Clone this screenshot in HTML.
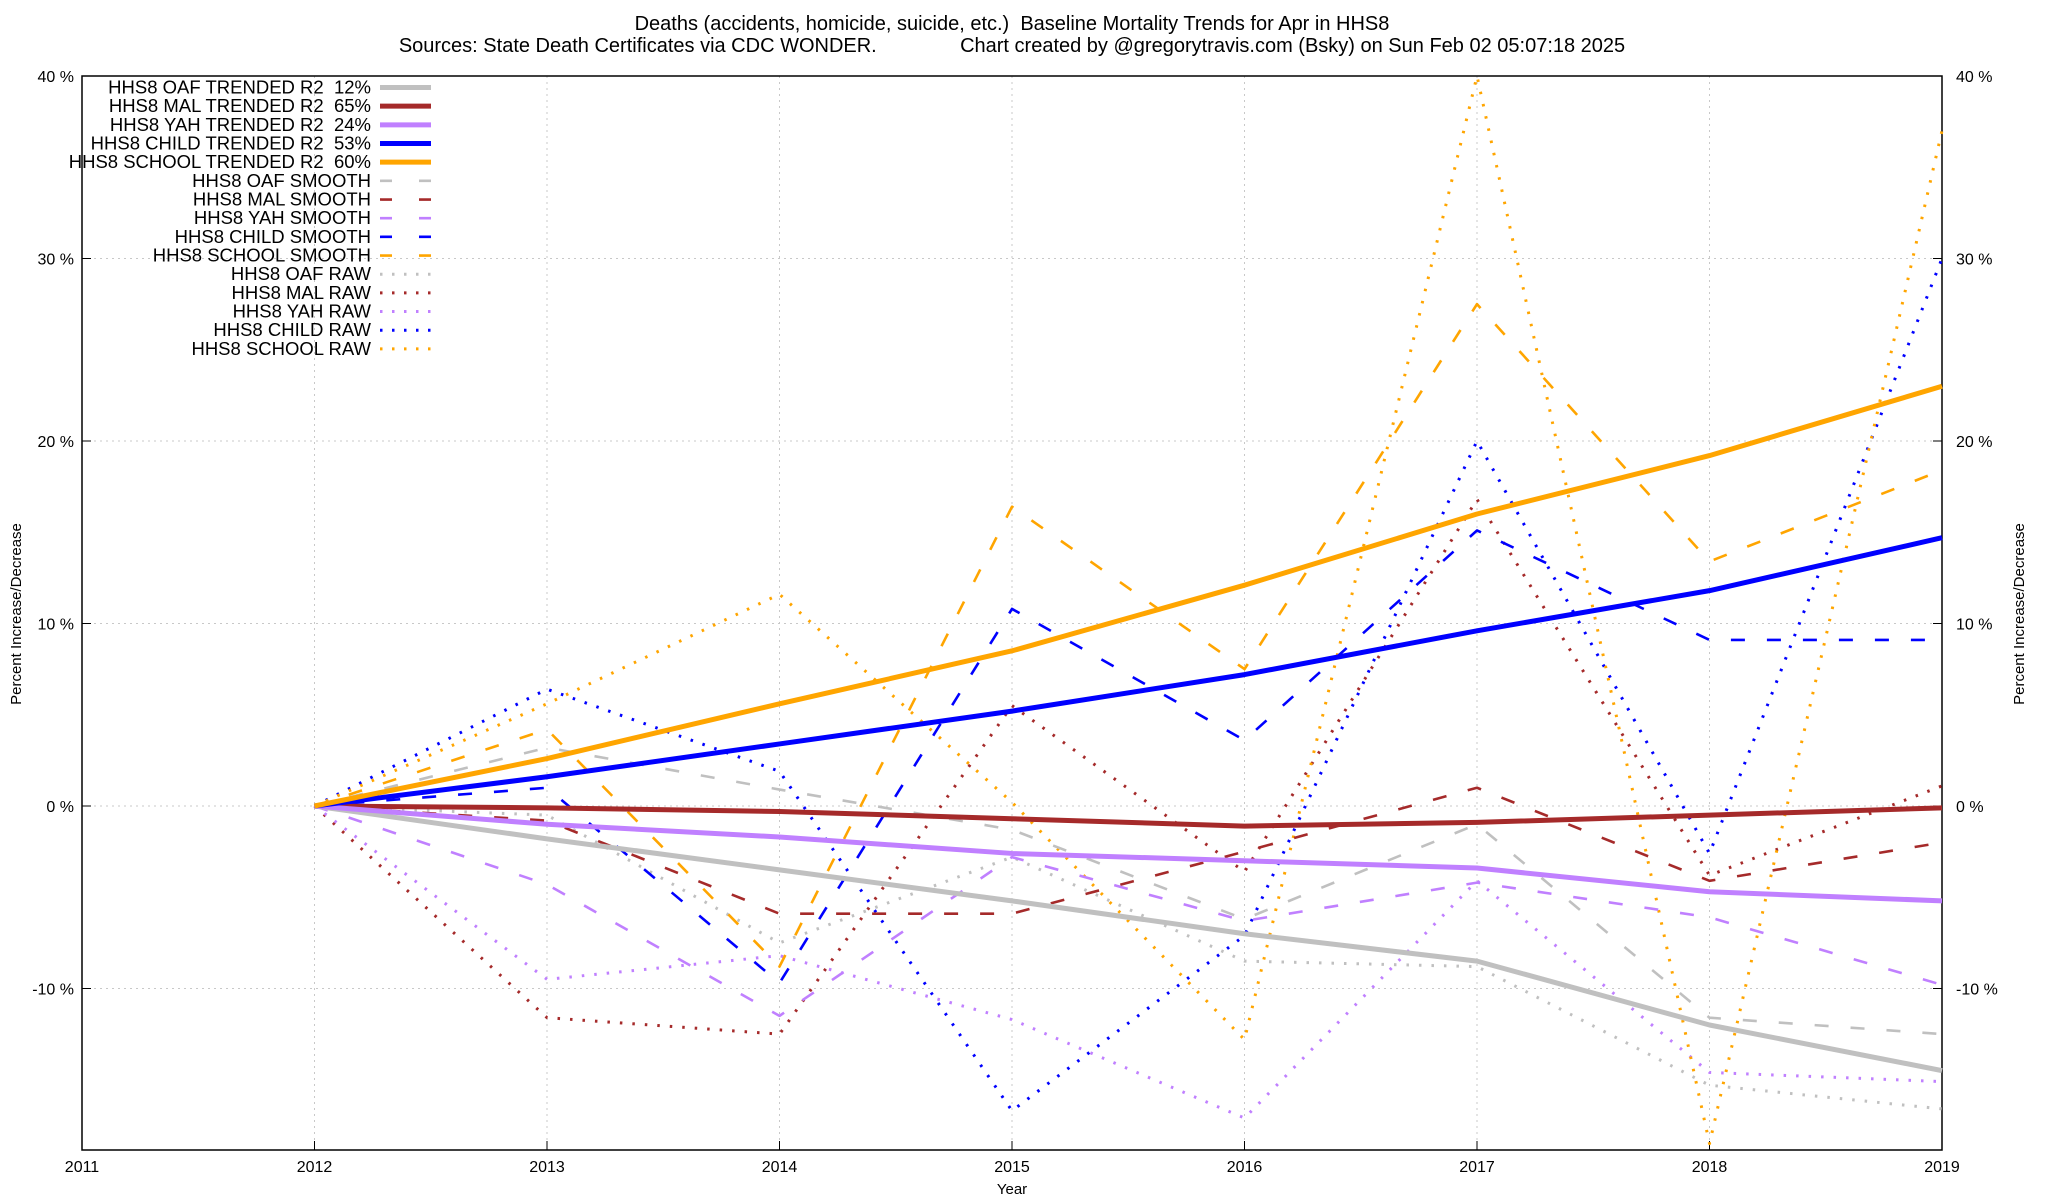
<!DOCTYPE html>
<html><head><meta charset="utf-8">
<style>
html,body{margin:0;padding:0;background:#fff;}
svg{display:block;font-family:"Liberation Sans",sans-serif;}
text{white-space:pre;}
</style></head>
<body>
<svg id="chart" width="2048" height="1200" viewBox="0 0 2048 1200" xmlns="http://www.w3.org/2000/svg">
<rect width="2048" height="1200" fill="#fff"/>
<text x="1012" y="30" text-anchor="middle" font-size="20">Deaths (accidents, homicide, suicide, etc.)  Baseline Mortality Trends for Apr in HHS8</text>
<text x="1012" y="52" text-anchor="middle" font-size="20">Sources: State Death Certificates via CDC WONDER.               Chart created by @gregorytravis.com (Bsky) on Sun Feb 02 05:07:18 2025</text>
<g id="grid"></g>
<g id="axes"></g>
<g id="series"></g>
<g id="legend"></g>
<text x="1012" y="1194" text-anchor="middle" font-size="15">Year</text>
<text transform="translate(21,614) rotate(-90)" text-anchor="middle" font-size="15">Percent Increase/Decrease</text>
<text transform="translate(2024,614) rotate(-90)" text-anchor="middle" font-size="15">Percent Increase/Decrease</text>
</svg>
<script>
const years = [2012,2013,2014,2015,2016,2017,2018,2019];
const xTicks = [2011,2012,2013,2014,2015,2016,2017,2018,2019];
const yTicks = [-10,0,10,20,30,40];
const oafTrend = [0,-1.8,-3.5,-5.2,-7.0,-8.5,-12.0,-14.5];
const malTrend = [0,-0.1,-0.3,-0.7,-1.1,-0.9,-0.5,-0.1];
const yahTrend = [0,-1.0,-1.7,-2.6,-3.0,-3.4,-4.7,-5.2];
const childTrend = [0,1.6,3.4,5.2,7.2,9.6,11.8,14.7];
const schoolTrend = [0,2.6,5.6,8.5,12.1,16.0,19.2,23.0];
const oafSmooth = [0,3.2,0.9,-1.3,-6.2,-1.0,-11.6,-12.5];
const malSmooth = [0,-0.8,-5.9,-5.9,-2.5,1.0,-4.1,-2.0];
const yahSmooth = [0,-4.3,-11.5,-2.8,-6.3,-4.2,-6.1,-9.8];
const childSmooth = [0,1.0,-9.7,10.8,3.6,15.1,9.1,9.1];
const schoolSmooth = [0,4.2,-8.8,16.4,7.5,27.5,13.4,18.4];
const oafRaw = [0,-0.5,-7.5,-2.8,-8.5,-8.8,-15.3,-16.6];
const malRaw = [0,-11.6,-12.5,5.5,-3.6,16.8,-3.8,1.1];
const yahRaw = [0,-9.5,-8.2,-11.7,-17.1,-4.1,-14.6,-15.1];
const childRaw = [0,6.4,1.9,-16.7,-7.1,20.0,-2.6,30.0];
const schoolRaw = [0,5.6,11.6,0.2,-12.8,40.0,-18.5,37.0];

const NS="http://www.w3.org/2000/svg";
const L=82,R=1942,T=76,B=1150,yMin=-18.85,yMax=40,xMin=2011,xMax=2019;
const xs=v=>L+(v-xMin)/(xMax-xMin)*(R-L);
const ys=v=>B-(v-yMin)/(yMax-yMin)*(B-T);
function mk(tag,attrs,parent){const e=document.createElementNS(NS,tag);for(const k in attrs)e.setAttribute(k,attrs[k]);parent.appendChild(e);return e;}
const grid=document.getElementById('grid'),axes=document.getElementById('axes'),series=document.getElementById('series'),legend=document.getElementById('legend');
xTicks.forEach(t=>{
  const x=xs(t);
  if(t>xMin&&t<xMax){const g=mk('line',{x1:x,x2:x,y1:T,y2:B,stroke:'#c8c8c8','stroke-width':1,'stroke-dasharray':'2 4'},grid);
  
  }
  const tk=mk('line',{x1:x,x2:x,y1:B,y2:B-9,stroke:'#000'},axes);
  
  
  const lb=mk('text',{x:x,y:1172,'text-anchor':'middle','font-size':16},axes);lb.textContent=t;
  
  
});
yTicks.forEach(t=>{
  const y=ys(t);
  const g=mk('line',{x1:L,x2:R,y1:y,y2:y,stroke:'#c8c8c8','stroke-width':1,'stroke-dasharray':'2 4'},grid);
  
  
  const t1=mk('line',{x1:L,x2:L+9,y1:y,y2:y,stroke:'#000'},axes);
  
  
  const t2=mk('line',{x1:R,x2:R-9,y1:y,y2:y,stroke:'#000'},axes);
  
  
  const a=mk('text',{x:74,y:y+6,'text-anchor':'end','font-size':16},axes);a.textContent=t+' %';
  
  
  const b=mk('text',{x:1956,y:y+6,'font-size':16},axes);b.textContent=t+' %';
  
  
});
const frame=mk('rect',{x:L,y:T,width:R-L,height:B-T,fill:'none',stroke:'#000','stroke-width':1.5},axes);



const C={oaf:'#c0c0c0',mal:'#a52a2a',yah:'#c080ff',child:'#0000ff',school:'#ffa500'};
const styles={trend:{w:5,d:''},smooth:{w:2.6,d:'14 22'},raw:{w:3,d:'2.5 10'}};
const defs=[
 ['HHS8 OAF TRENDED R2  12%',oafTrend,C.oaf,'trend','oaf-trend-line'],
 ['HHS8 MAL TRENDED R2  65%',malTrend,C.mal,'trend','mal-trend-line'],
 ['HHS8 YAH TRENDED R2  24%',yahTrend,C.yah,'trend','yah-trend-line'],
 ['HHS8 CHILD TRENDED R2  53%',childTrend,C.child,'trend','child-trend-line'],
 ['HHS8 SCHOOL TRENDED R2  60%',schoolTrend,C.school,'trend','school-trend-line'],
 ['HHS8 OAF SMOOTH',oafSmooth,C.oaf,'smooth','oaf-smooth-line'],
 ['HHS8 MAL SMOOTH',malSmooth,C.mal,'smooth','mal-smooth-line'],
 ['HHS8 YAH SMOOTH',yahSmooth,C.yah,'smooth','yah-smooth-line'],
 ['HHS8 CHILD SMOOTH',childSmooth,C.child,'smooth','child-smooth-line'],
 ['HHS8 SCHOOL SMOOTH',schoolSmooth,C.school,'smooth','school-smooth-line'],
 ['HHS8 OAF RAW',oafRaw,C.oaf,'raw','oaf-raw-line'],
 ['HHS8 MAL RAW',malRaw,C.mal,'raw','mal-raw-line'],
 ['HHS8 YAH RAW',yahRaw,C.yah,'raw','yah-raw-line'],
 ['HHS8 CHILD RAW',childRaw,C.child,'raw','child-raw-line'],
 ['HHS8 SCHOOL RAW',schoolRaw,C.school,'raw','school-raw-line']
];
const order=[10,11,12,13,14,5,6,7,8,9,0,1,2,3,4];
order.forEach(i=>{
  const [lab,vals,col,st,nm]=defs[i];const s=styles[st];
  const pts=vals.map((v,j)=>xs(years[j])+','+ys(v)).join(' ');
  const p=mk('polyline',{points:pts,fill:'none',stroke:col,'stroke-width':s.w,'stroke-linejoin':'round'},series);
  if(s.d)p.setAttribute('stroke-dasharray',s.d);
  
  
});
defs.forEach((d,i)=>{
  const [lab,vals,col,st,nm]=d;const s=styles[st];
  const y=87.5+i*18.67;
  const t=mk('text',{x:371,y:y+6,'text-anchor':'end','font-size':18.5},legend);t.textContent=lab;
  
  
  const l=mk('line',{x1:380,x2:431,y1:y,y2:y,stroke:col,'stroke-width':s.w},legend);
  if(s.d)l.setAttribute('stroke-dasharray',st==='smooth'?'12 27':'2.5 9.5');
  
  
});
</script>
</body></html>
